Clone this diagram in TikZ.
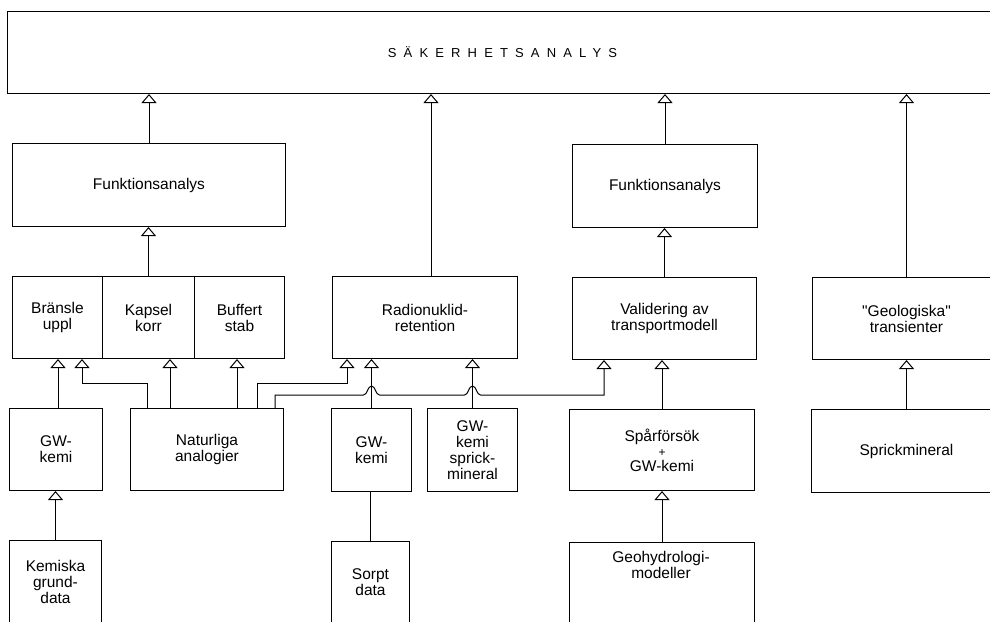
\documentclass[tikz,border=0pt]{standalone}
\usepackage{fontspec}
\setmainfont{Liberation Sans}
\usepackage{tikz}
\usetikzlibrary{
  arrows.meta,
  calc
}
\tikzset{
  box/.style={
    draw, line width=1pt, inner sep=0pt, anchor=north west,
    align=center, font=\fontsize{15.5}{16}\selectfont
  },
  txt/.style={inner sep=0pt, align=center, font=\fontsize{15.5}{16}\selectfont},
  arr/.style={-{Triangle[open, length=9pt, width=15pt]}, line width=1pt},
  link/.style={line width=1pt}
}

\begin{document}
\begin{tikzpicture}[x=1pt, y=-1pt]
  \useasboundingbox (0,0) rectangle (990,621);
  \clip (0,0) rectangle (990,621);

  % top level
  \node[box, minimum width=990pt, minimum height=82pt, font=\fontsize{13}{14}\selectfont] (saf) at (7,11)
    {\addfontfeature{LetterSpace=55}SÄKERHETSANALYS};

  % second level
  \node[box, minimum width=273pt, minimum height=83pt] (funk1) at (12,143) {Funktionsanalys};
  \node[box, minimum width=185pt, minimum height=83pt] (funk2) at (572,144) {Funktionsanalys};

  % third level
  \node[box, minimum width=90pt, minimum height=82pt] (bransle) at (12,276) {Bränsle\\uppl};
  \node[box, minimum width=92pt, minimum height=82pt] (kapsel) at (102,276) {Kapsel\\korr};
  \node[box, minimum width=90pt, minimum height=82pt] (buffert) at (194,276) {Buffert\\stab};
  \node[box, minimum width=185pt, minimum height=82pt] (radio) at (332,276) {Radionuklid-\\retention};
  \node[box, minimum width=184pt, minimum height=82pt] (valid) at (572,277) {Validering av\\transportmodell};
  \node[box, minimum width=188pt, minimum height=82pt] (geol) at (812,277) {\textquotedbl Geologiska\textquotedbl\\transienter};

  % fourth level
  \node[box, minimum width=93pt, minimum height=82pt] (gwk1) at (9,408) {GW-\\kemi};
  \node[box, minimum width=153pt, minimum height=82pt] (natur) at (130,408) {Naturliga\\analogier};
  \node[box, minimum width=80pt, minimum height=83pt] (gwk2) at (331,408) {GW-\\kemi};
  \node[box, minimum width=90pt, minimum height=83pt] (gwspr) at (427,408) {GW-\\kemi\\sprick-\\mineral};
  \node[box, minimum width=185pt, minimum height=81pt] (spar) at (569,409)
    {Spårförsök\\[-1pt]{\fontsize{12}{12}\selectfont +}\\[-1pt]GW-kemi};
  \node[box, minimum width=190pt, minimum height=83pt] (sprick) at (811,409) {Sprickmineral};

  % bottom level
  \node[box, minimum width=92pt, minimum height=82pt] (kemisk) at (9,540) {Kemiska\\grund-\\data};
  \node[box, minimum width=78pt, minimum height=81pt] (sorpt) at (331,541) {Sorpt\\data};
  \node[box, minimum width=185pt, minimum height=90pt] (geohyd) at (569,542) {};
  \node[txt] (geohydtxt) at (661,565) {Geohydrologi-\\modeller};

  % into the top box
  \draw[arr] (funk1.north) -- (funk1.north |- saf.south);
  \draw[arr] ([xshift=6pt]radio.north) -- ([xshift=6pt]radio.north |- saf.south);
  \draw[arr] (funk2.north) -- (funk2.north |- saf.south);
  \draw[arr] (geol.north) -- (geol.north |- saf.south);

  % into the second level
  \draw[arr] (kapsel.north) -- (kapsel.north |- funk1.south);
  \draw[arr] (valid.north) -- (valid.north |- funk2.south);

  % taps on top of Naturliga analogier
  \coordinate (tapA) at ([xshift=17pt]natur.north west);
  \coordinate (tapB) at ([xshift=40pt]natur.north west);
  \coordinate (tapC) at ([xshift=107pt]natur.north west);
  \coordinate (tapD) at ([xshift=127pt]natur.north west);
  \coordinate (tapE) at ([xshift=145pt]natur.north west);
  \coordinate (hopA) at ([yshift=13pt]gwk2.north);
  \coordinate (hopB) at ([yshift=13pt]gwspr.north);

  % into the third level
  \draw[arr] ([xshift=2pt]gwk1.north) -- ([xshift=2pt]gwk1.north |- bransle.south);
  \draw[arr] (tapA) -- ++(0,-25) -| ([xshift=70pt]bransle.south west);
  \draw[arr] (tapB) -- (tapB |- kapsel.south);
  \draw[arr] (tapC) -- (tapC |- buffert.south);
  \draw[arr] (tapD) -- ++(0,-25) -| ([xshift=15pt]radio.south west);
  \draw[arr] (gwk2.north) -- (gwk2.north |- radio.south);
  \draw[arr] (gwspr.north) -- (gwspr.north |- radio.south);
  \draw[arr] (tapE) -- ++(0,-13)
    -- ([xshift=-8pt]hopA) .. controls +(4,0) and +(-4,0) .. ([yshift=9pt]hopA)
    .. controls +(4,0) and +(-4,0) .. ([xshift=8pt]hopA)
    -- ([xshift=-8pt]hopB) .. controls +(4,0) and +(-4,0) .. ([yshift=9pt]hopB)
    .. controls +(4,0) and +(-4,0) .. ([xshift=8pt]hopB)
    -| ([xshift=32pt]valid.south west);
  \draw[arr] (spar.north) -- (spar.north |- valid.south);
  \draw[arr] (sprick.north) -- (sprick.north |- geol.south);

  % into the fourth level
  \draw[arr] (kemisk.north) -- (kemisk.north |- gwk1.south);
  \draw[link] (sorpt.north) -- (sorpt.north |- gwk2.south);
  \draw[arr] (geohyd.north) -- (geohyd.north |- spar.south);
\end{tikzpicture}
\end{document}
